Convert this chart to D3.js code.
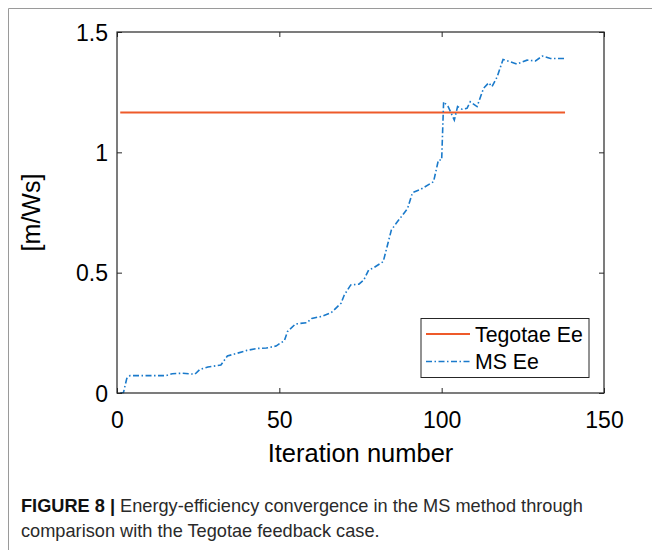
<!DOCTYPE html>
<html>
<head>
<meta charset="utf-8">
<script src="https://cdn.jsdelivr.net/npm/d3@7"></script>
<style>
  html, body { margin: 0; padding: 0; background: #fff; }
  svg { display: block; }
  text { font-family: "Liberation Sans", Arial, Helvetica, sans-serif; }
</style>
</head>
<body>
<svg id="chart" width="652" height="550"></svg>
<script>
// ---- data ----
const xTicks = [0, 50, 100, 150];
const yTicks = [0, 0.5, 1, 1.5];
const yTickLabels = ["0", "0.5", "1", "1.5"];
const tegotaeIter = [1, 138];
const tegotaeValue = [1.165, 1.165];
const msIter = [1, 2, 3, 4, 8, 15, 17, 20, 24, 25.5, 28, 32, 34, 37, 40, 43, 46, 49, 50.5, 51.5, 52.5, 55, 58.5, 60, 63, 66, 69, 70, 72, 74.5, 76, 77.5, 79, 82, 84.5, 86, 88, 89.5, 91, 93.5, 97.5, 99, 100, 100.6, 102, 103.9, 104.9, 106.3, 107.8, 108.8, 110.9, 112.9, 114.5, 115.5, 117.1, 118.9, 121.2, 123.2, 126.3, 128.9, 131, 133.5, 138];
const msValue = [0, 0.002, 0.06, 0.072, 0.072, 0.072, 0.08, 0.082, 0.078, 0.098, 0.108, 0.116, 0.154, 0.165, 0.177, 0.185, 0.187, 0.195, 0.21, 0.215, 0.255, 0.287, 0.292, 0.31, 0.318, 0.334, 0.373, 0.407, 0.449, 0.452, 0.469, 0.511, 0.52, 0.546, 0.677, 0.705, 0.74, 0.767, 0.832, 0.846, 0.878, 0.968, 0.968, 1.21, 1.19, 1.134, 1.19, 1.179, 1.183, 1.21, 1.19, 1.266, 1.289, 1.273, 1.314, 1.386, 1.376, 1.367, 1.383, 1.38, 1.4, 1.39, 1.39];
const seriesNames = ["Tegotae Ee", "MS Ee"];
const xLabel = "Iteration number";
const yLabel = "[m/Ws]";
const captionBold = "FIGURE 8 |";
const captionLine1 = " Energy-efficiency convergence in the MS method through";
const captionLine2 = "comparison with the Tegotae feedback case.";

// ---- layout ----
const svg = d3.select("#chart");
const L = 117, R = 604, T = 32, B = 393;
const x = d3.scaleLinear().domain([0, 150]).range([L, R]);
const y = d3.scaleLinear().domain([0, 1.5]).range([B, T]);
const axisColor = "#262626";
const cTeg = "#EE5A2A";
const cMS = "#1A7ACB";

// outer frame (figure panel border)
svg.append("line").attr("x1", 8.5).attr("x2", 8.5).attr("y1", 8.5).attr("y2", 550)
  .attr("stroke", "#9a9a9a").attr("stroke-width", 1);
svg.append("line").attr("x1", 8.5).attr("x2", 652).attr("y1", 8.5).attr("y2", 8.5)
  .attr("stroke", "#9a9a9a").attr("stroke-width", 1);

// lines
const line = d3.line().x(d => x(d[0])).y(d => y(d[1]));
svg.append("path")
  .datum(tegotaeIter.map((v, i) => [v, tegotaeValue[i]]))
  .attr("d", line).attr("fill", "none").attr("stroke", cTeg).attr("stroke-width", 2);
svg.append("path")
  .datum(msIter.map((v, i) => [v, msValue[i]]))
  .attr("d", line).attr("fill", "none").attr("stroke", cMS).attr("stroke-width", 1.6)
  .attr("stroke-dasharray", "6,2.5,1.5,2.5");

// axes (box with inward ticks)
const tickLen = 5;
const axB = d3.axisBottom(x).tickValues(xTicks).tickSize(-tickLen).tickPadding(12).tickFormat(d3.format("d"));
const axT = d3.axisTop(x).tickValues(xTicks).tickSize(-tickLen).tickFormat("");
const axLft = d3.axisLeft(y).tickValues(yTicks).tickSize(-tickLen).tickPadding(9).tickFormat((d, i) => yTickLabels[i]);
const axRt = d3.axisRight(y).tickValues(yTicks).tickSize(-tickLen).tickFormat("");

const gB = svg.append("g").attr("transform", `translate(0,${B})`).call(axB);
const gT = svg.append("g").attr("transform", `translate(0,${T})`).call(axT);
const gL = svg.append("g").attr("transform", `translate(${L},0)`).call(axLft);
const gR = svg.append("g").attr("transform", `translate(${R},0)`).call(axRt);
[gB, gT, gL, gR].forEach(g => {
  g.selectAll(".tick line").attr("stroke", axisColor).attr("stroke-width", 1);
  g.selectAll("text").attr("fill", "#000").style("font-size", "23px");
  g.select(".domain").remove();
});
gB.selectAll("text").attr("dy", null).attr("y", 35);
gL.selectAll("text").attr("dy", "0.36em");
svg.append("rect").attr("x", L).attr("y", T).attr("width", R - L).attr("height", B - T)
  .attr("fill", "none").attr("stroke", axisColor).attr("stroke-width", 1.2);

// axis labels
svg.append("text").attr("x", (L + R) / 2).attr("y", 462).attr("text-anchor", "middle")
  .style("font-size", "25.5px").attr("fill", "#000").text(xLabel);
svg.append("text").attr("transform", `translate(40,${(T + B) / 2}) rotate(-90)`)
  .attr("text-anchor", "middle").style("font-size", "25px").attr("fill", "#000").text(yLabel);

// legend
const lg = svg.append("g");
lg.append("rect").attr("x", 421).attr("y", 318.5).attr("width", 168).attr("height", 59)
  .attr("fill", "#fff").attr("stroke", axisColor).attr("stroke-width", 1);
const legColors = [cTeg, cMS];
const legDash = [null, "6,2.5,1.5,2.5"];
const legW = [2, 1.6];
seriesNames.forEach((n, i) => {
  const yy = 334 + i * 27.5;
  lg.append("line").attr("x1", 426).attr("x2", 470).attr("y1", yy).attr("y2", yy)
    .attr("stroke", legColors[i]).attr("stroke-width", legW[i])
    .attr("stroke-dasharray", legDash[i]);
  lg.append("text").attr("x", 475).attr("y", yy + 7.5).style("font-size", "21.3px")
    .attr("fill", "#000").text(n);
});

// caption
const cap = svg.append("text").attr("x", 21).attr("y", 512).style("font-size", "18.2px").attr("fill", "#2a2a2a");
cap.append("tspan").style("font-weight", "bold").attr("fill", "#111").text(captionBold);
cap.append("tspan").text(captionLine1);
svg.append("text").attr("x", 21).attr("y", 537).style("font-size", "18.2px").attr("fill", "#2a2a2a").text(captionLine2);
</script>
</body>
</html>
